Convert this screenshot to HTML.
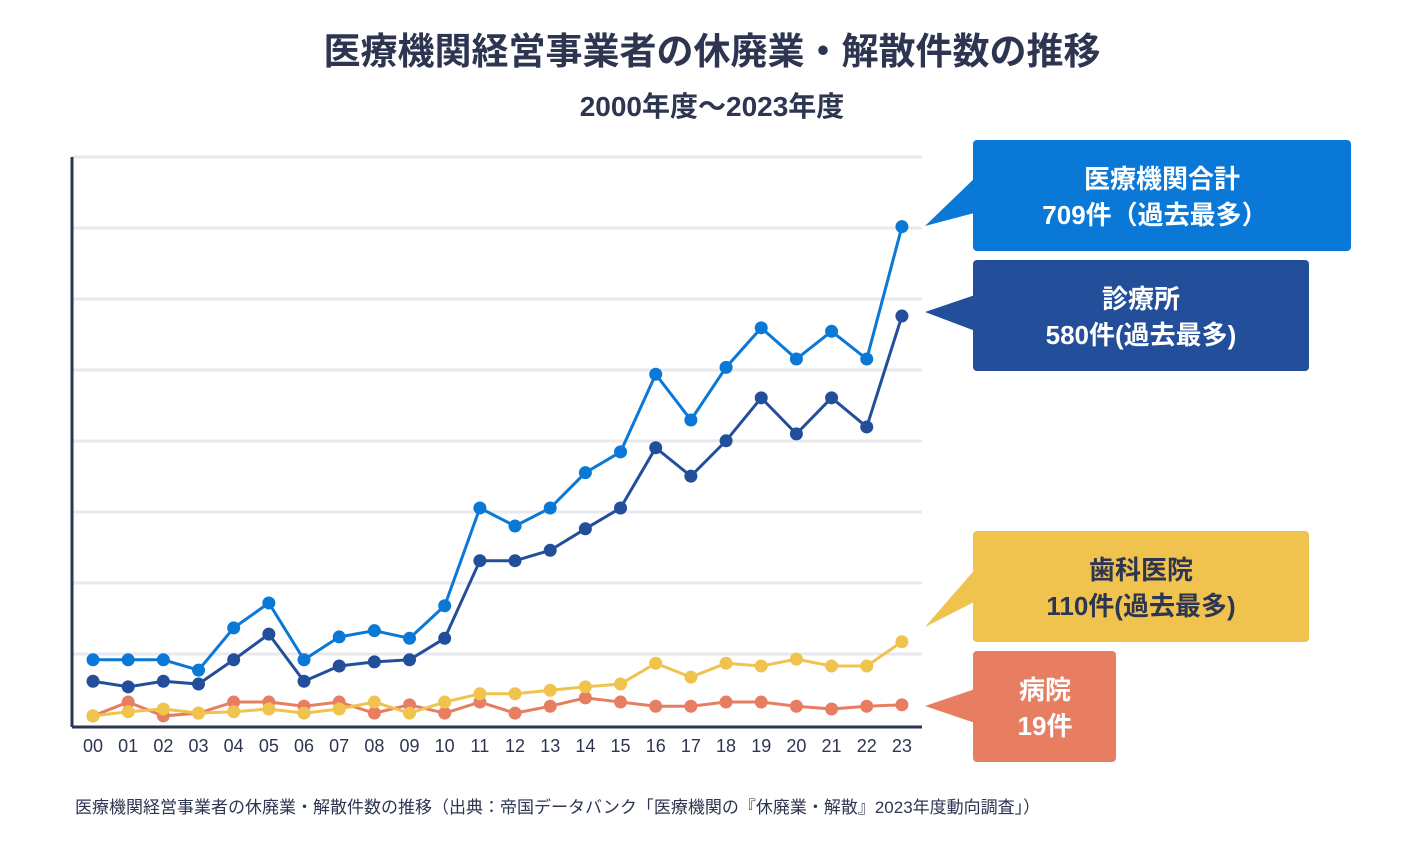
<!DOCTYPE html>
<html><head><meta charset="utf-8">
<style>
body{margin:0;background:#fff;width:1425px;height:852px;overflow:hidden;font-family:"Liberation Sans","Noto Sans CJK JP",sans-serif;}
</style></head>
<body>
<svg width="1425" height="852" xmlns="http://www.w3.org/2000/svg" font-family="Liberation Sans, Noto Sans CJK JP, sans-serif">
<text x="712" y="64" text-anchor="middle" font-size="37" font-weight="bold" fill="#2d3550">医療機関経営事業者の休廃業・解散件数の推移</text>
<text x="712" y="116" text-anchor="middle" font-size="28" font-weight="bold" fill="#2d3550">2000年度〜2023年度</text>
<g id="grid"></g>
<line x1="72" y1="157" x2="72" y2="727" stroke="#2d3550" stroke-width="3"/>
<line x1="72" y1="727" x2="922" y2="727" stroke="#2d3550" stroke-width="3"/>
<g id="xlabels"></g>
<g id="series"></g>
<g>
<rect x="973" y="140" width="378" height="111" rx="4" fill="#0a78d6"/>
<polygon points="925,226 978,175 978,212" fill="#0a78d6"/>
<text x="1162" y="188" text-anchor="middle" font-size="26" font-weight="bold" fill="#fff">医療機関合計</text>
<text x="1155" y="224" text-anchor="middle" font-size="26" font-weight="bold" fill="#fff">709件（過去最多）</text>
</g>
<g>
<rect x="973" y="260" width="336" height="111" rx="4" fill="#234e9a"/>
<polygon points="925,312 978,294 978,332" fill="#234e9a"/>
<text x="1141" y="308" text-anchor="middle" font-size="26" font-weight="bold" fill="#fff">診療所</text>
<text x="1141" y="344" text-anchor="middle" font-size="26" font-weight="bold" fill="#fff">580件(過去最多)</text>
</g>
<g>
<rect x="973" y="531" width="336" height="111" rx="4" fill="#f0c24e"/>
<polygon points="925,627 978,566 978,600" fill="#f0c24e"/>
<text x="1141" y="579" text-anchor="middle" font-size="26" font-weight="bold" fill="#2d3550">歯科医院</text>
<text x="1141" y="615" text-anchor="middle" font-size="26" font-weight="bold" fill="#2d3550">110件(過去最多)</text>
</g>
<g>
<rect x="973" y="651" width="143" height="111" rx="4" fill="#e77e62"/>
<polygon points="925,706 978,688 978,724" fill="#e77e62"/>
<text x="1045" y="699" text-anchor="middle" font-size="26" font-weight="bold" fill="#fff">病院</text>
<text x="1045" y="735" text-anchor="middle" font-size="26" font-weight="bold" fill="#fff">19件</text>
</g>
<text x="75" y="813" font-size="17" fill="#2d3550">医療機関経営事業者の休廃業・解散件数の推移（出典：帝国データバンク「医療機関の『休廃業・解散』2023年度動向調査」）</text>
</svg>
<script>
const years=["00","01","02","03","04","05","06","07","08","09","10","11","12","13","14","15","16","17","18","19","20","21","22","23"];
const total=[84,84,84,69,130,166,84,117,126,115,162,303,277,303,354,384,496,430,506,563,518,558,518,709];
const clinic=[53,45,53,49,84,121,53,75,81,84,115,227,227,242,273,303,390,349,400,462,410,462,420,580];
const dental=[3,9,13,7,9,13,7,13,23,7,23,35,35,40,45,49,79,59,79,75,85,75,75,110];
const hospital=[3,23,3,7,23,23,17,23,7,19,7,23,7,17,29,23,17,17,23,23,17,13,17,19];
const NS="http://www.w3.org/2000/svg";
const xS=i=>93+i*35.17;
const yS=v=>718-v*0.693;
const grid=document.getElementById('grid');
for(let k=0;k<8;k++){const l=document.createElementNS(NS,'line');


const y=157+k*71;l.setAttribute('x1',72);l.setAttribute('x2',922);l.setAttribute('y1',y);l.setAttribute('y2',y);l.setAttribute('stroke','#e8e9ee');l.setAttribute('stroke-width','3');grid.appendChild(l);}
const xl=document.getElementById('xlabels');
years.forEach((t,i)=>{const e=document.createElementNS(NS,'text');


e.setAttribute('x',xS(i));e.setAttribute('y',752);e.setAttribute('text-anchor','middle');e.setAttribute('font-size','18');e.setAttribute('fill','#2d3550');e.textContent=t;xl.appendChild(e);});
const sg=document.getElementById('series');
function draw(arr,color,name){const g=document.createElementNS(NS,'g');


const p=document.createElementNS(NS,'polyline');


p.setAttribute('points',arr.map((v,i)=>xS(i)+','+yS(v)).join(' '));p.setAttribute('fill','none');p.setAttribute('stroke',color);p.setAttribute('stroke-width','3');g.appendChild(p);
arr.forEach((v,i)=>{const c=document.createElementNS(NS,'circle');


c.setAttribute('cx',xS(i));c.setAttribute('cy',yS(v));c.setAttribute('r','6.5');c.setAttribute('fill',color);g.appendChild(c);});
sg.appendChild(g);}
draw(hospital,'#e77e62','series-hospital');
draw(dental,'#f0c24e','series-dental');
draw(clinic,'#234e9a','series-clinic');
draw(total,'#0a78d6','series-total');
</script>
</body></html>
